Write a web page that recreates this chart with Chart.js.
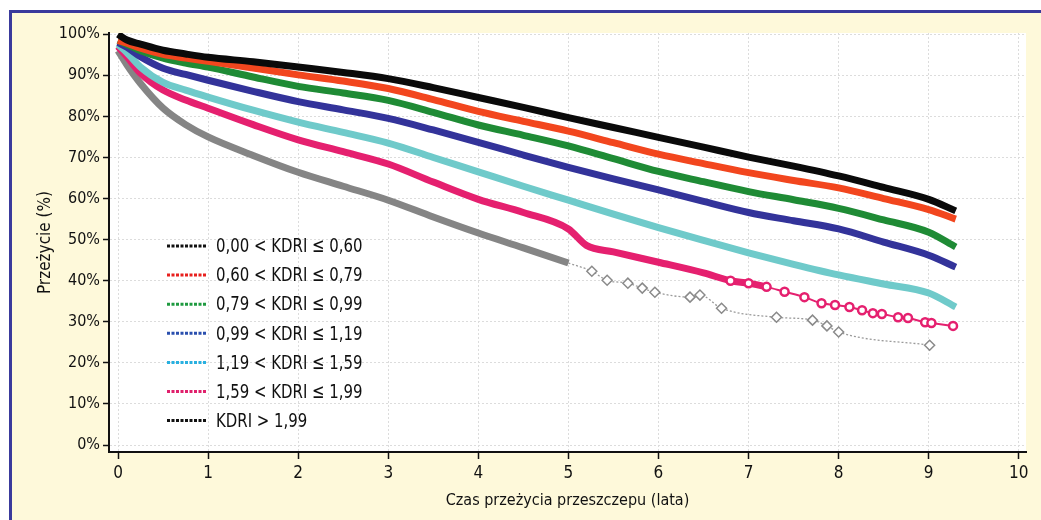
<!DOCTYPE html>
<html>
<head>
<meta charset="utf-8">
<script src="https://cdn.jsdelivr.net/npm/chart.js@4/dist/chart.umd.min.js"></script>
<style>
  body { margin: 0; background: #fff; }
  #frame {
    position: absolute; left: 9px; top: 10px; width: 1100px; height: 600px;
    background: #fef9da; border-top: 3px solid #3a3a9c; border-left: 3px solid #3a3a9c;
  }
  #wrap { position: absolute; left: 0; top: 0; width: 1041px; height: 520px; }
</style>
</head>
<body>
<div id="frame"></div>
<div id="wrap"><canvas id="myChart" width="1041" height="520"></canvas></div>
<script>
const fontFamily = "'Liberation Sans Narrow', 'DejaVu Sans Condensed', 'Arial Narrow', sans-serif"

// czas w latach (wspolny dla gestych odcinkow krzywych)
const years = [0, 0.1, 0.25, 0.5, 0.75, 1, 1.5, 2, 2.5, 3, 3.5, 4, 4.5, 5, 5.2, 5.5, 6, 6.5, 7, 7.5, 8, 8.5, 9, 9.3]

const kdri000 = [100, 98.6, 97.6, 96.1, 95.2, 94.4, 93.3, 92, 90.7, 89.2, 87, 84.6, 82.2, 79.7, null, 77.3, 74.9, 72.5, 70.1, 67.9, 65.5, 62.7, 59.8, 57]
const kdri060 = [98.5, 97.8, 96.6, 95.1, 94.2, 93.4, 91.8, 90.1, 88.6, 86.8, 84.1, 81.2, 78.8, 76.4, null, 73.6, 70.8, 68.5, 66.3, 64.4, 62.6, 60, 57.3, 55]
const kdri079 = [98.5, 97.5, 96, 94.2, 93, 92, 89.6, 87.3, 85.7, 83.9, 81, 77.9, 75.4, 72.8, null, 69.7, 66.6, 64.1, 61.7, 59.7, 57.6, 54.8, 51.8, 48.2]
const kdri099 = [98, 96.8, 94.5, 91.7, 90.2, 88.8, 86.1, 83.6, 81.6, 79.5, 76.7, 73.7, 70.6, 67.6, null, 64.8, 62.1, 59.3, 56.6, 54.6, 52.6, 49.4, 46.2, 43.3]
const kdri119 = [97.5, 95.5, 92, 88.3, 86.4, 84.7, 81.5, 78.6, 76.1, 73.5, 70, 66.5, 63, 59.6, null, 56.2, 52.9, 49.8, 46.8, 44, 41.4, 39.2, 37, 33.6]
const kdri159 = [97, 94.5, 90.5, 86.4, 84, 82, 78, 74.3, 71.4, 68.4, 64, 59.8, 56.6, 52.6, 48.6, 47, 44.5, 41.9, null, null, null, null, null, null]
const kdri199 = [96, 92.5, 88, 82, 78, 75, 70.5, 66.4, 63, 59.6, 55.5, 51.6, 48, 44.3, null, null, null, null, null, null, null, null, null, null]

// rzadkie koncowki (pojedyncze znaczniki)
const pinkTailYears = [6.8, 7.0, 7.2, 7.4, 7.62, 7.81, 7.96, 8.12, 8.26, 8.38, 8.48, 8.66, 8.77, 8.96, 9.03, 9.27]
const pinkTail = [40, 39.4, 38.5, 37.3, 36, 34.5, 34.1, 33.6, 32.8, 32.1, 31.9, 31.1, 30.9, 29.9, 29.7, 29]
const grayTailYears = [5.26, 5.43, 5.66, 5.82, 5.96, 6.35, 6.46, 6.7, 7.31, 7.71, 7.87, 8.0, 9.01]
const grayTail = [42.3, 40.1, 39.4, 38.2, 37.2, 36, 36.5, 33.3, 31.1, 30.4, 29, 27.5, 24.3]

const labels = ['0,00 < KDRI \u2264 0,60', '0,60 < KDRI \u2264 0,79', '0,79 < KDRI \u2264 0,99', '0,99 < KDRI \u2264 1,19',
    '1,19 < KDRI \u2264 1,59', '1,59 < KDRI \u2264 1,99', 'KDRI > 1,99']
const lineColors = ['#0a0a0a', '#f2461e', '#1f8b35', '#33339a', '#6fcaca', '#e5206f', '#858585']
const legendColors = ['#111111', '#e8201e', '#1f9a40', '#2a4fae', '#28b0e0', '#e0206c', '#111111']
const xTicks = [0, 1, 2, 3, 4, 5, 6, 7, 8, 9, 10]
const yTicks = [0, 10, 20, 30, 40, 50, 60, 70, 80, 90, 100]

const toPoints = (xs, ys) => xs.map((x, i) => ({ x: x, y: ys[i] })).filter(p => p.y !== null)

const series = [
    toPoints(years, kdri000),
    toPoints(years, kdri060),
    toPoints(years, kdri079),
    toPoints(years, kdri099),
    toPoints(years, kdri119),
    toPoints(years, kdri159).concat(toPoints(pinkTailYears, pinkTail)),
    toPoints(years, kdri199).concat(toPoints(grayTailYears, grayTail))
]

const datasets = series.map((data, i) => {
    const ds = {
        label: labels[i],
        data: data,
        borderColor: lineColors[i],
        borderWidth: 7,
        pointRadius: 0,
        cubicInterpolationMode: 'monotone',
        fill: false
    }
    if (i === 5) {
        ds.pointRadius = (ctx) => (ctx.raw && ctx.raw.x >= 6.8 ? 4 : 0)
        ds.pointStyle = 'circle'
        ds.pointBorderColor = lineColors[i]
        ds.pointBackgroundColor = '#ffffff'
        ds.pointBorderWidth = 2.5
        ds.segment = { borderWidth: (ctx) => (ctx.p0.parsed.x >= 7.2 ? 2 : 7) }
    }
    if (i === 6) {
        ds.pointRadius = (ctx) => (ctx.raw && ctx.raw.x > 5 ? 5 : 0)
        ds.pointStyle = 'rectRot'
        ds.pointBorderColor = '#8a8a8a'
        ds.pointBackgroundColor = '#ffffff'
        ds.pointBorderWidth = 1.5
        ds.segment = {
            borderWidth: (ctx) => (ctx.p0.parsed.x >= 5 ? 1.3 : 7),
            borderDash: (ctx) => (ctx.p0.parsed.x >= 5 ? [2, 2] : undefined),
            borderColor: (ctx) => (ctx.p0.parsed.x >= 5 ? '#9a9a9a' : undefined)
        }
    }
    return ds
})

// biale tlo obszaru wykresu + legenda wewnatrz
const plotBackground = {
    id: 'plotBackground',
    beforeDraw(chart) {
        const { ctx, chartArea } = chart
        ctx.save()
        ctx.fillStyle = '#ffffff'
        ctx.fillRect(chartArea.left, chartArea.top, chartArea.right - chartArea.left, chartArea.bottom - chartArea.top)
        ctx.restore()
    }
}

const insideLegend = {
    id: 'insideLegend',
    afterDatasetsDraw(chart) {
        const { ctx, chartArea } = chart
        const x0 = chartArea.left + 58
        const y0 = chartArea.top + 213
        ctx.save()
        ctx.font = '20px ' + fontFamily
        ctx.textBaseline = 'middle'
        labels.forEach((text, i) => {
            const y = y0 + i * 29.1
            ctx.strokeStyle = legendColors[i]
            ctx.lineWidth = 3
            ctx.setLineDash([3, 1.5])
            ctx.beginPath()
            ctx.moveTo(x0, y)
            ctx.lineTo(x0 + 40, y)
            ctx.stroke()
            ctx.setLineDash([])
            // czcionka waska - sciskamy poziomo
            ctx.save()
            ctx.translate(x0 + 49, y + 1)
            ctx.scale(0.83, 1)
            ctx.fillStyle = '#111'
            ctx.fillText(text, 0, 0)
            ctx.restore()
        })
        ctx.restore()
    }
}

new Chart(document.getElementById('myChart'), {
    type: 'line',
    data: { datasets: datasets },
    plugins: [plotBackground, insideLegend],
    options: {
        responsive: false,
        animation: false,
        layout: { padding: { left: 0, top: 33, right: 15, bottom: 0 } },
        plugins: { legend: { display: false }, tooltip: { enabled: false } },
        scales: {
            x: {
                type: 'linear',
                min: -0.1,
                max: 10.08,
                afterBuildTicks: (axis) => { axis.ticks = xTicks.map(v => ({ value: v })) },
                afterFit: (scale) => { scale.height = 68 },
                ticks: { color: '#111', padding: 4, maxRotation: 0, font: { family: fontFamily, size: 17 } },
                grid: { color: '#dcdcdc', tickColor: '#111', tickLength: 7, tickWidth: 1.5, tickBorderDash: [] },
                border: { display: true, color: '#111', width: 2, dash: [2, 2] },
                title: {
                    display: true,
                    text: 'Czas przeżycia przeszczepu (lata)',
                    color: '#111',
                    font: { family: fontFamily, size: 16 },
                    padding: { top: 0, bottom: 10 }
                }
            },
            y: {
                min: -1.7,
                max: 100.3,
                afterBuildTicks: (axis) => { axis.ticks = yTicks.map(v => ({ value: v })) },
                afterFit: (scale) => { scale.width = 109 },
                ticks: {
                    color: '#111', padding: 3,
                    font: { family: fontFamily, size: 16 },
                    callback: (v) => v + '%'
                },
                grid: { color: '#dcdcdc', tickColor: '#111', tickLength: 6, tickWidth: 1.5, tickBorderDash: [] },
                border: { display: true, color: '#111', width: 2, dash: [2, 2] },
                title: {
                    display: true,
                    text: 'Przeżycie (%)',
                    color: '#111',
                    font: { family: fontFamily, size: 17 },
                    padding: { top: 35, bottom: 0 }
                }
            }
        }
    }
})
</script>
</body>
</html>
